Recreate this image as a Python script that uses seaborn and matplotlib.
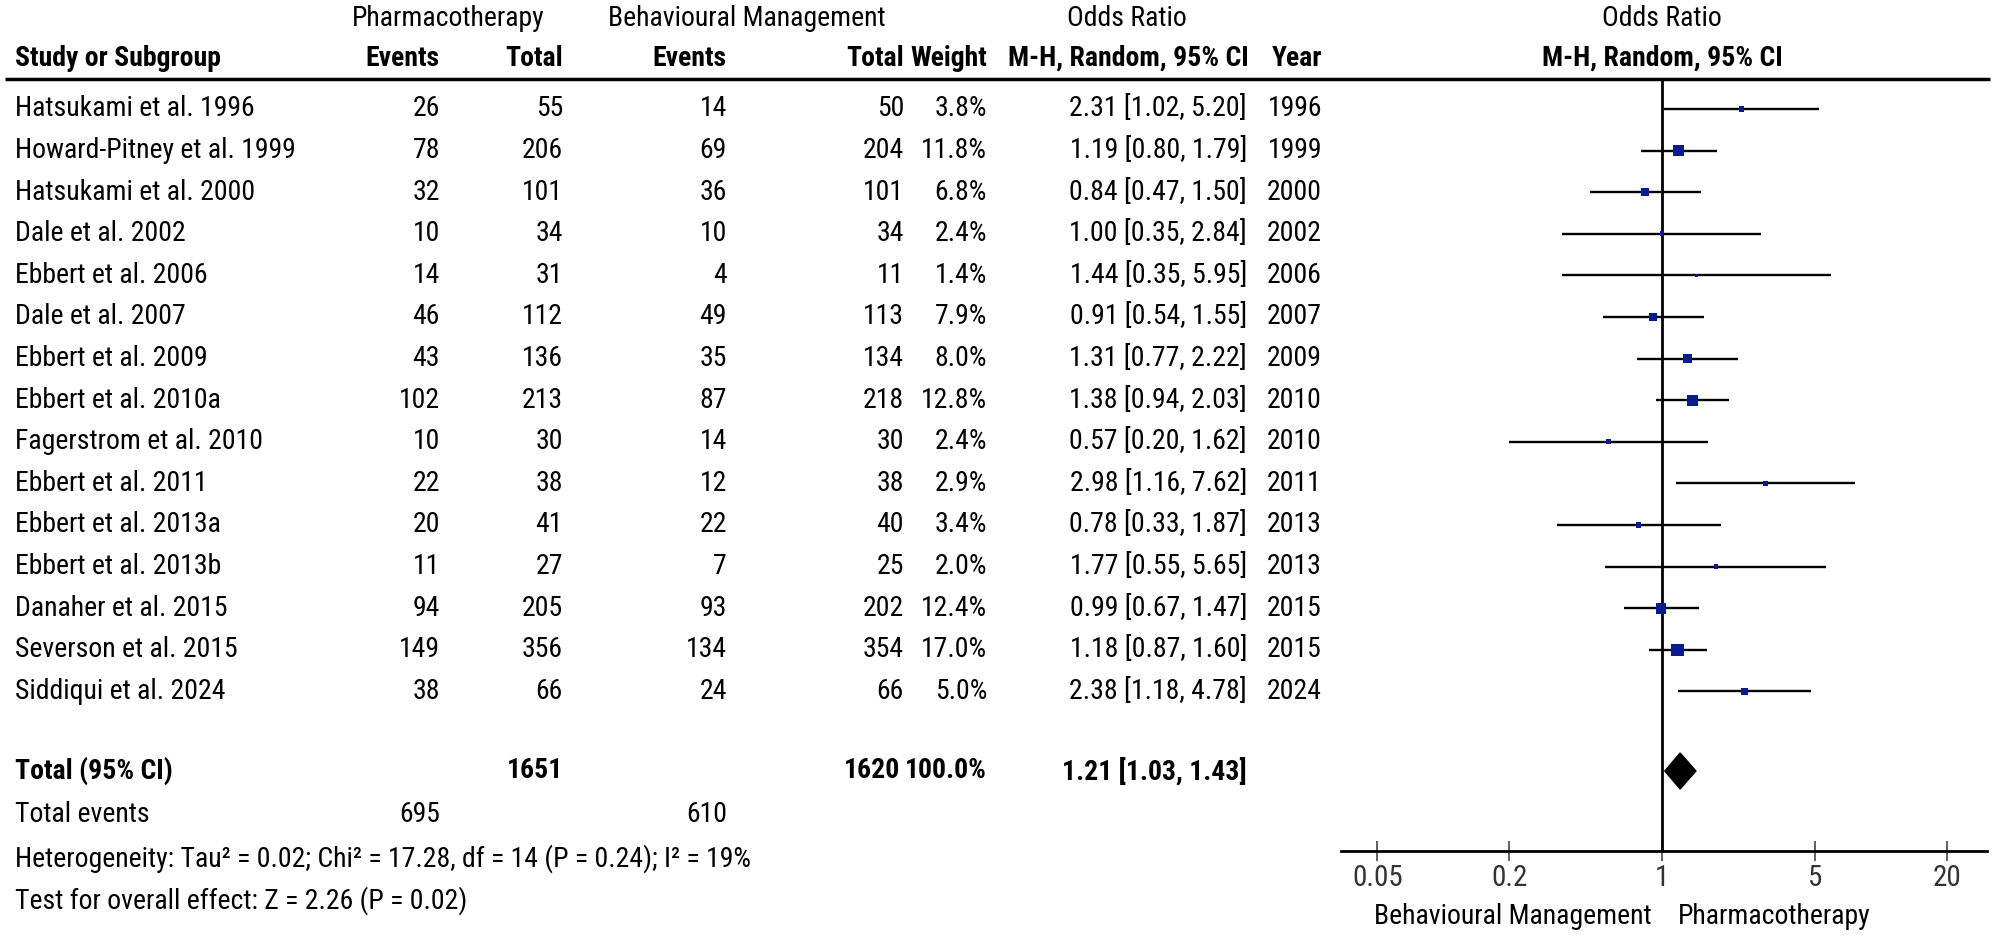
import matplotlib
matplotlib.use("Agg")
import matplotlib.pyplot as plt
import seaborn as sns
import numpy as np

# Study data
studies = ["Hatsukami et al. 1996", "Howard-Pitney et al. 1999", "Hatsukami et al. 2000",
           "Dale et al. 2002", "Ebbert et al. 2006", "Dale et al. 2007", "Ebbert et al. 2009",
           "Ebbert et al. 2010a", "Fagerstrom et al. 2010", "Ebbert et al. 2011",
           "Ebbert et al. 2013a", "Ebbert et al. 2013b", "Danaher et al. 2015",
           "Severson et al. 2015", "Siddiqui et al. 2024"]
ph_events = [26, 78, 32, 10, 14, 46, 43, 102, 10, 22, 20, 11, 94, 149, 38]
ph_total = [55, 206, 101, 34, 31, 112, 136, 213, 30, 38, 41, 27, 205, 356, 66]
bm_events = [14, 69, 36, 10, 4, 49, 35, 87, 14, 12, 22, 7, 93, 134, 24]
bm_total = [50, 204, 101, 34, 11, 113, 134, 218, 30, 38, 40, 25, 202, 354, 66]
weights = [3.8, 11.8, 6.8, 2.4, 1.4, 7.9, 8.0, 12.8, 2.4, 2.9, 3.4, 2.0, 12.4, 17.0, 5.0]
odds = [2.31, 1.19, 0.84, 1.00, 1.44, 0.91, 1.31, 1.38, 0.57, 2.98, 0.78, 1.77, 0.99, 1.18, 2.38]
ci_lo = [1.02, 0.80, 0.47, 0.35, 0.35, 0.54, 0.77, 0.94, 0.20, 1.16, 0.33, 0.55, 0.67, 0.87, 1.18]
ci_hi = [5.20, 1.79, 1.50, 2.84, 5.95, 1.55, 2.22, 2.03, 1.62, 7.62, 1.87, 5.65, 1.47, 1.60, 4.78]
years = [1996, 1999, 2000, 2002, 2006, 2007, 2009, 2010, 2010, 2011, 2013, 2013, 2015, 2015, 2024]

# Pooled result
total_ph, total_bm = 1651, 1620
events_ph, events_bm = 695, 610
pooled_or, pooled_lo, pooled_hi = 1.21, 1.03, 1.43
heterogeneity = "Heterogeneity: Tau² = 0.02; Chi² = 17.28, df = 14 (P = 0.24); I² = 19%"
overall = "Test for overall effect: Z = 2.26 (P = 0.02)"

ticks = [0.05, 0.2, 1, 5, 20]
tick_labels = ["0.05", "0.2", "1", "5", "20"]

sns.set_style("white")
plt.rcParams["font.family"] = ["Roboto Condensed", "IBM Plex Sans Condensed", "DejaVu Sans"]
plt.rcParams["text.color"] = "black"
FS = 20

W, H = 2008, 939
fig = plt.figure(figsize=(W / 100, H / 100), dpi=100)

# table axes in pixel coordinates
ax_t = fig.add_axes([0, 0, 1, 1])
ax_t.set_xlim(0, W)
ax_t.set_ylim(H, 0)
ax_t.axis("off")

row0, step = 109, 41.6
rows = [row0 + i * step for i in range(len(studies))]
y_total = 771
y_events = y_total + 44
y_het = y_events + 44
y_test = y_het + 42

head1, head2 = 18, 58
line_y = 79
axis_y = 851

def txt(x, y, s, ha="right", bold=False):
    ax_t.text(x, y, s, ha=ha, va="center", fontsize=FS,
              fontweight="semibold" if bold else "normal")

# headers
txt(448, head1, "Pharmacotherapy", ha="center")
txt(747, head1, "Behavioural Management", ha="center")
txt(1127, head1, "Odds Ratio", ha="center")
txt(1662, head1, "Odds Ratio", ha="center")
txt(15, head2, "Study or Subgroup", ha="left", bold=True)
txt(440, head2, "Events", bold=True)
txt(563, head2, "Total", bold=True)
txt(727, head2, "Events", bold=True)
txt(904, head2, "Total", bold=True)
txt(987, head2, "Weight", bold=True)
txt(1249, head2, "M-H, Random, 95% CI", bold=True)
txt(1322, head2, "Year", bold=True)
txt(1662, head2, "M-H, Random, 95% CI", ha="center", bold=True)
ax_t.hlines(line_y, 5, 1990, color="black", lw=2.5)

# study rows
for i, y in enumerate(rows):
    txt(15, y, studies[i], ha="left")
    txt(440, y, str(ph_events[i]))
    txt(563, y, str(ph_total[i]))
    txt(727, y, str(bm_events[i]))
    txt(904, y, str(bm_total[i]))
    txt(987, y, f"{weights[i]:.1f}%")
    txt(1247, y, f"{odds[i]:.2f} [{ci_lo[i]:.2f}, {ci_hi[i]:.2f}]")
    txt(1322, y, str(years[i]))

# totals
txt(15, y_total, "Total (95% CI)", ha="left", bold=True)
txt(563, y_total, str(total_ph), bold=True)
txt(900, y_total, str(total_bm), bold=True)
txt(987, y_total, f"{sum(weights):.1f}%", bold=True)
txt(1247, y_total, f"{pooled_or:.2f} [{pooled_lo:.2f}, {pooled_hi:.2f}]", bold=True)
txt(15, y_events, "Total events", ha="left")
txt(440, y_events, str(events_ph))
txt(727, y_events, str(events_bm))
txt(15, y_het, heterogeneity, ha="left")
txt(15, y_test, overall, ha="left")

# forest axes
x_left, x_right = 1341, 1987
dec = 218.7
ax_f = fig.add_axes([x_left / W, (H - axis_y) / H, (x_right - x_left) / W, (axis_y - line_y) / H])
ax_f.set_xscale("log")
ax_f.set_xlim(10 ** ((x_left - 1662) / dec), 10 ** ((x_right - 1662) / dec))
ax_f.set_ylim(axis_y, line_y)
ax_f.patch.set_alpha(0)

ax_f.axvline(1, color="black", lw=2)
ax_f.hlines(rows, ci_lo, ci_hi, color="black", lw=1.7)
k = 4.8
sns.scatterplot(x=odds, y=rows, size=weights, sizes=(min(weights) * k, max(weights) * k),
                size_norm=(min(weights), max(weights)), marker="s", color="#0a1a8f",
                edgecolor="none", legend=False, ax=ax_f, zorder=3)
ax_f.fill([pooled_lo, pooled_or, pooled_hi, pooled_or],
          [y_total, y_total - 18, y_total, y_total + 18], color="black", zorder=3)

for s in ["top", "right", "left"]:
    ax_f.spines[s].set_visible(False)
ax_f.spines["bottom"].set_linewidth(2)
ax_f.spines["bottom"].set_color("black")
ax_f.set_yticks([])
ax_f.set_xticks(ticks)
ax_f.set_xticklabels(tick_labels)
ax_f.minorticks_off()
ax_f.tick_params(axis="x", direction="inout", length=14, width=1.2, color="#444444",
                 labelsize=21, labelcolor="#333333", pad=2, bottom=True)
ax_f.set_xlabel("")
ax_f.set_ylabel("")

ax_t.text(1652, 917, "Behavioural Management", ha="right", va="center", fontsize=FS)
ax_t.text(1678, 917, "Pharmacotherapy", ha="left", va="center", fontsize=FS)

fig.savefig("out.png", dpi=100)
